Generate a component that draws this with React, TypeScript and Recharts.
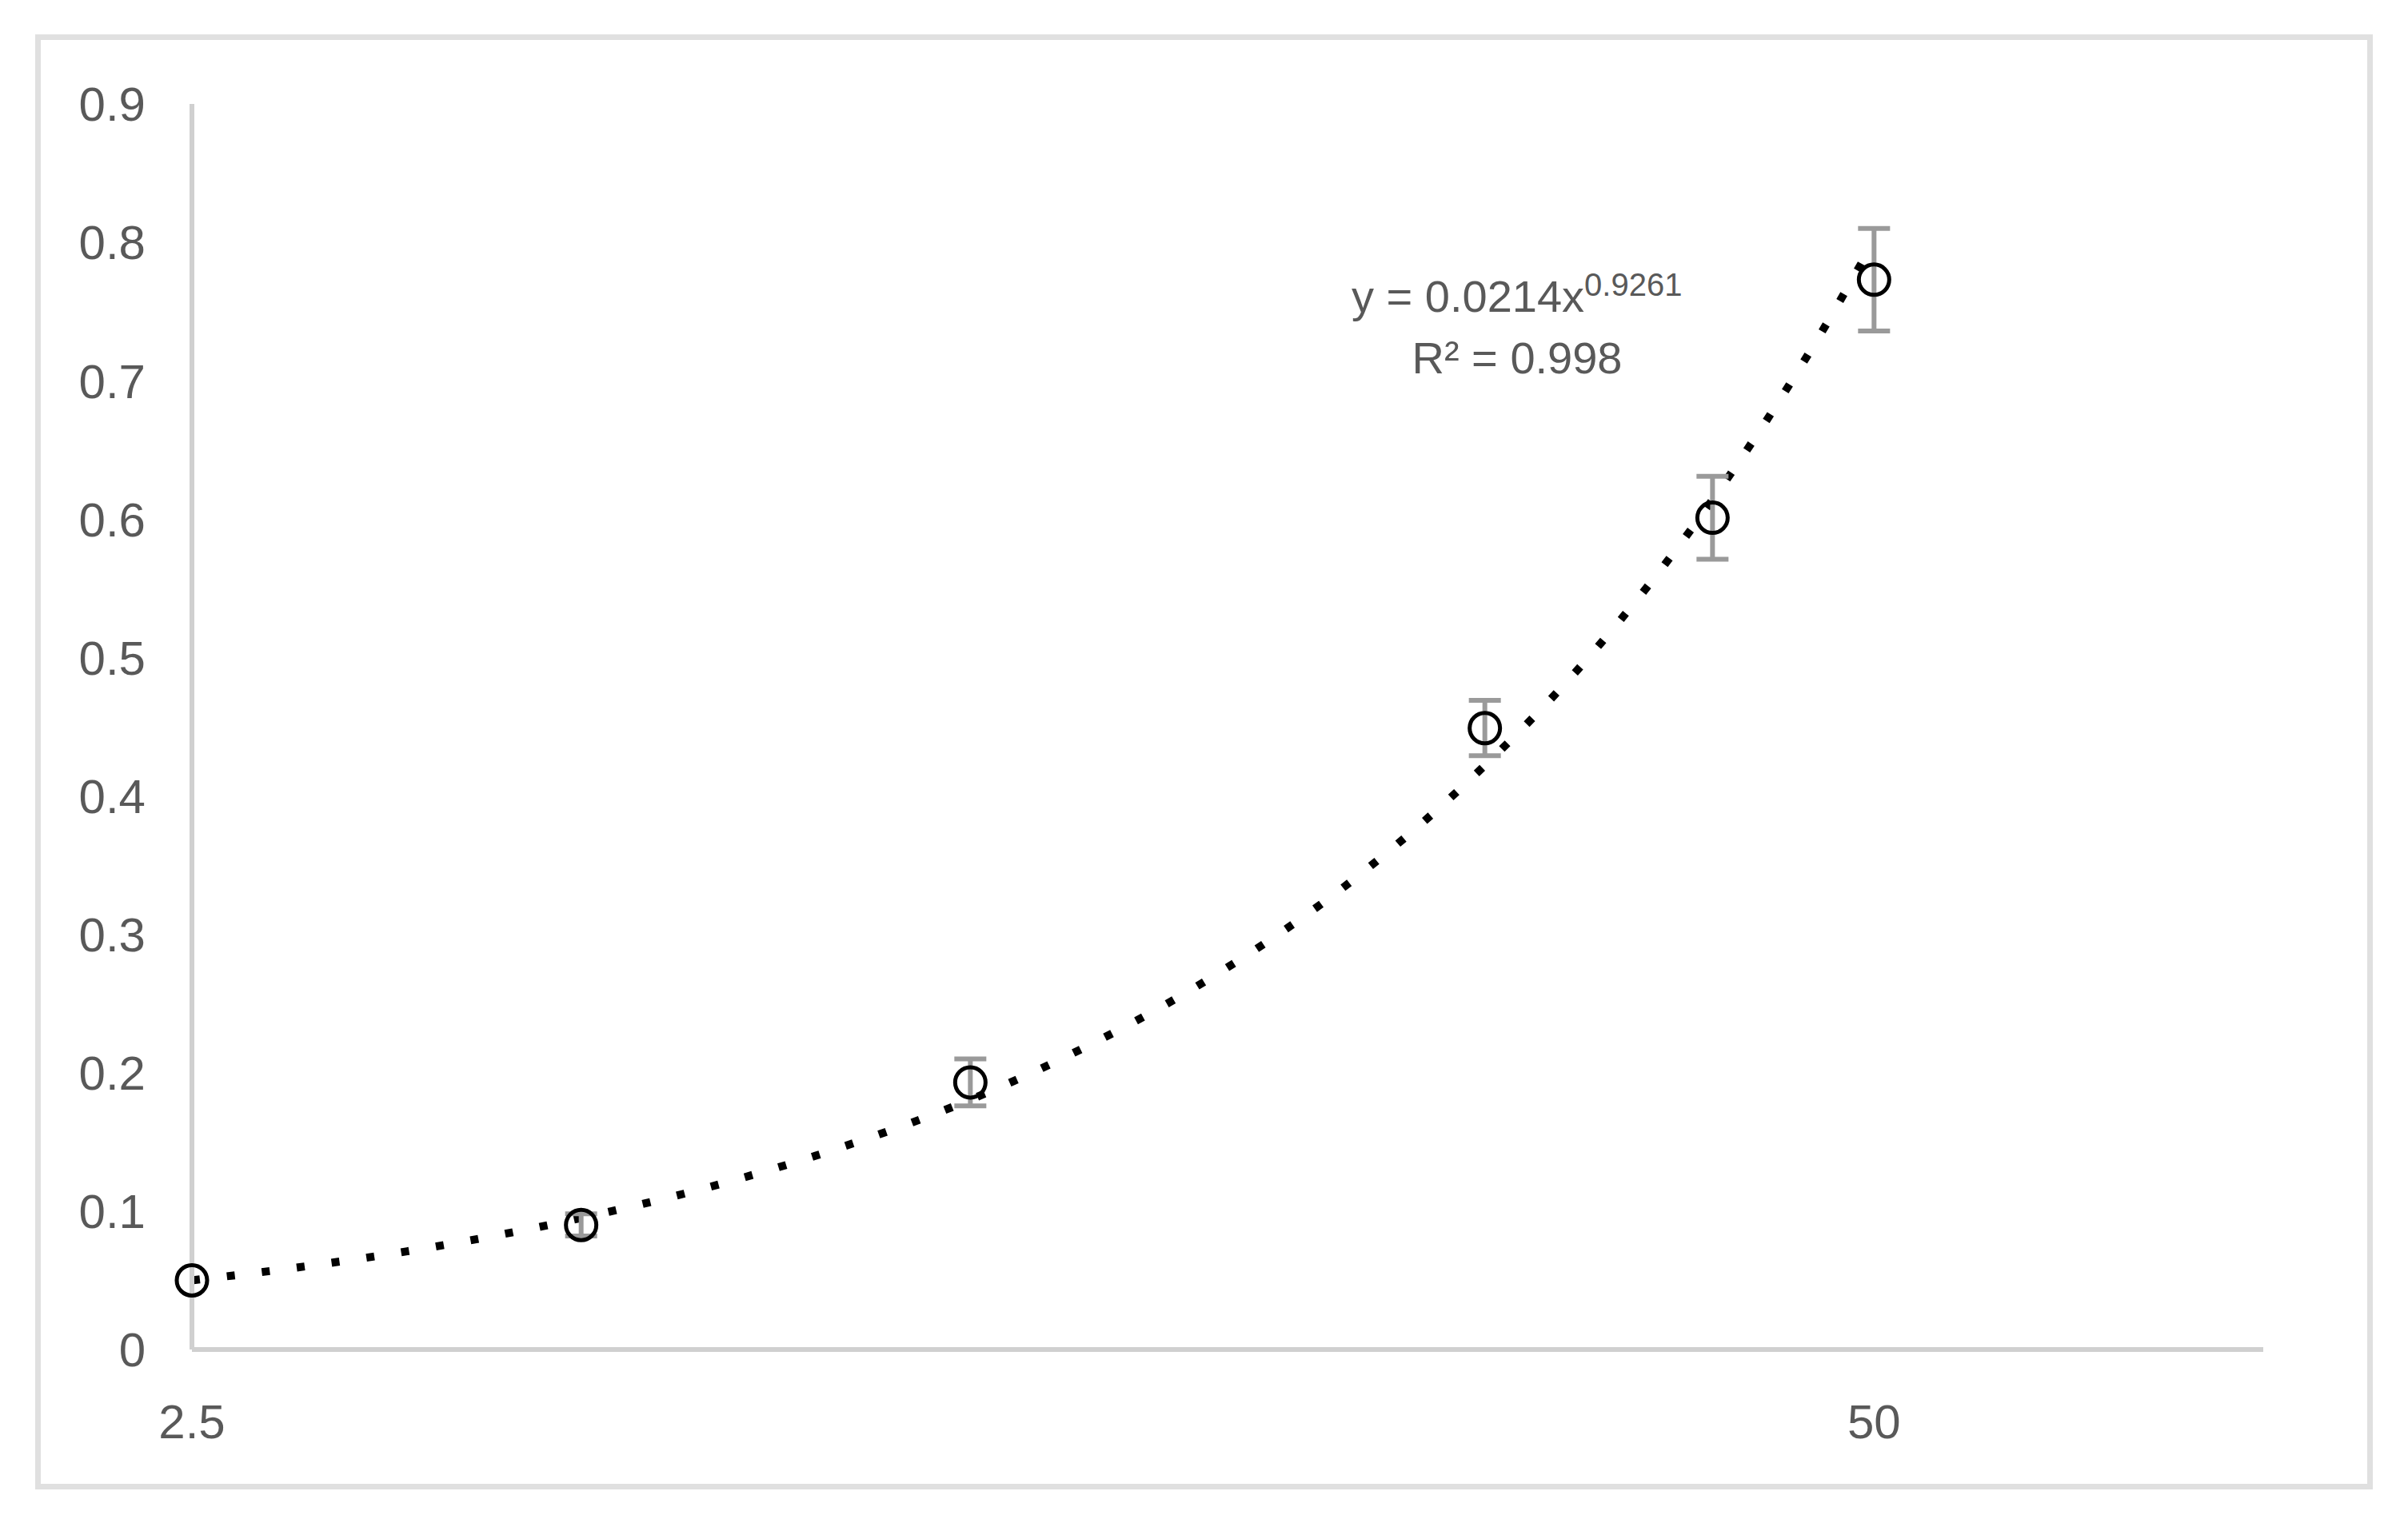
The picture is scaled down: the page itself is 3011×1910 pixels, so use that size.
import { ComposedChart, Line, Scatter, XAxis, YAxis, ErrorBar, Customized } from 'recharts'

// measured points (x on a log axis)
const xValues = [2.5, 5, 10, 25, 37.5, 50]
const yValues = [0.05, 0.09, 0.193, 0.449, 0.601, 0.773]
// no visible bar at 2.5
const yErrors = [null, 0.008, 0.017, 0.02, 0.03, 0.037]

// power trendline
const trendX = [2.5, 3, 4, 5, 6, 8, 10, 12, 15, 20, 25, 30, 37.5, 45, 50]
const trendY = [0.05, 0.059, 0.077, 0.095, 0.1125, 0.147, 0.1805, 0.214, 0.263, 0.343, 0.422, 0.499, 0.614, 0.727, 0.801]

const xTicks = [2.5, 50]
const yTicks = [0, 0.1, 0.2, 0.3, 0.4, 0.5, 0.6, 0.7, 0.8, 0.9]

const points = xValues.map((x, i) => ({ x, y: yValues[i], err: yErrors[i] }))
const trend = trendX.map((x, i) => ({ x, trend: trendY[i] }))

const font = '"Liberation Sans", Arial, sans-serif'
const grey = '#595959'

const OpenCircle = (props: any) => (
  <circle cx={props.cx} cy={props.cy} r={19} fill="none" stroke="#000" strokeWidth={5} />
)

const Equation = () => (
  <g fontFamily={font} fill={grey}>
    <text x={1690} y={390} fontSize={56}>
      y = 0.0214x
      <tspan dy={-20} fontSize={40}>0.9261</tspan>
    </text>
    <text x={1897} y={467} fontSize={56} textAnchor="middle">
      R² = 0.998
    </text>
  </g>
)

export default function App() {
  return (
    <div style={{ position: 'absolute', left: 0, top: 0, width: 3011, height: 1910, background: '#fff' }}>
      <div
        style={{
          position: 'absolute',
          left: 44,
          top: 43,
          width: 2923,
          height: 1820,
          boxSizing: 'border-box',
          border: '7px solid #e0e0e0',
        }}
      />
      <ComposedChart
        width={3011}
        height={1910}
        margin={{ top: 130, right: 181, bottom: 0, left: 0 }}
        style={{ position: 'absolute', left: 0, top: 0 }}
      >
        <XAxis
          dataKey="x"
          type="number"
          scale="log"
          domain={[2.5, 100]}
          ticks={xTicks}
          height={222}
          tickLine={false}
          tickSize={0}
          tickMargin={68}
          axisLine={{ stroke: '#d0d0d0', strokeWidth: 6 }}
          tick={{ fontSize: 60, fill: grey, fontFamily: font }}
        />
        <YAxis
          type="number"
          domain={[0, 0.9]}
          ticks={yTicks}
          width={240}
          tickLine={false}
          tickSize={0}
          tickMargin={58}
          axisLine={{ stroke: '#d0d0d0', strokeWidth: 6 }}
          tick={{ fontSize: 60, fill: grey, fontFamily: font }}
        />
        <Line
          data={trend}
          dataKey="trend"
          type="monotone"
          stroke="#000"
          strokeWidth={10}
          strokeDasharray="10 34"
          strokeLinecap="butt"
          dot={false}
          activeDot={false}
          isAnimationActive={false}
        />
        <Scatter data={points} dataKey="y" shape={OpenCircle} isAnimationActive={false}>
          <ErrorBar dataKey="err" direction="y" width={20} stroke="#9a9a9a" strokeWidth={6} />
        </Scatter>
        <Customized component={Equation} />
      </ComposedChart>
    </div>
  )
}
